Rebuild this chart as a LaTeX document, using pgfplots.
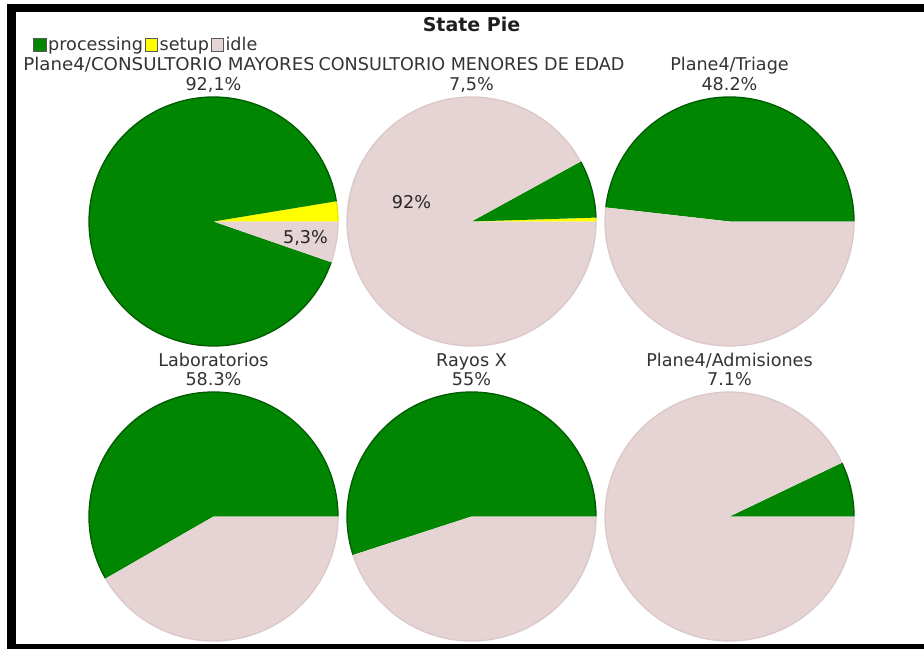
\documentclass[border=0pt]{standalone}
\usepackage{pgfplots}
\pgfplotsset{compat=1.18}
\usepackage{fontspec}
\setmainfont{DejaVu Sans}
\definecolor{pgreen}{HTML}{008600}
\definecolor{pgreenedge}{HTML}{005C00}
\definecolor{psetup}{HTML}{FFFF00}
\definecolor{psetupedge}{HTML}{E8E800}
\definecolor{pidle}{HTML}{E6D3D4}
\definecolor{pidleedge}{HTML}{DBC8C9}
\definecolor{txt}{HTML}{333333}
\newcommand{\R}{124.5}
% slice: cx, cy, start %, end %, fill, edge
\newcommand{\slice}[6]{%
  \addplot[forget plot, fill=#5, draw=none, domain=3.6*(#3):3.6*(#4), samples=120, variable=\t]
    ({#1+\R*cos(\t)},{#2-\R*sin(\t)}) -- (axis cs:#1,#2) -- cycle;
  \addplot[forget plot, draw=#6, line width=1pt, domain=3.6*(#3):3.6*(#4), samples=120, variable=\t]
    ({#1+\R*cos(\t)},{#2-\R*sin(\t)});
}
\newcommand{\lbl}{\fontsize{13.2}{15.8}\selectfont}
\begin{document}
\begin{tikzpicture}
\begin{axis}[
  width=693pt, height=486.75pt, scale only axis,
  xmin=0, xmax=924, ymin=0, ymax=649, y dir=reverse,
  hide axis, clip=false,
  sq legend/.style={legend image code/.code={\draw[##1] (0pt,-4.8pt) rectangle (9.5pt,4.8pt);}},
  legend style={draw=none, fill=none, inner sep=0pt, font=\lbl, text=txt,
    at={(axis description cs:0.0357,0.9307)}, anchor=west,
    nodes={inner sep=1.3pt}, /tikz/column sep=0pt},
  legend columns=-1,
]
\addlegendimage{sq legend, fill=pgreen, draw=black!65}
\addlegendentry{processing}
\addlegendimage{sq legend, fill=psetup, draw=black!65}
\addlegendentry{setup}
\addlegendimage{sq legend, fill=pidle, draw=black!65}
\addlegendentry{idle}

% Pie 1: Plane4/CONSULTORIO MAYORES DE EDAD  (setup 2.6, processing 92.1, idle 5.3)
\slice{213.5}{221.5}{0}{2.6}{psetup}{psetupedge}
\slice{213.5}{221.5}{2.6}{2.6+92.1}{pgreen}{pgreenedge}
\slice{213.5}{221.5}{2.6+92.1}{100}{pidle}{pidleedge}
% Pie 2: CONSULTORIO MENORES DE EDAD (setup 0.5, processing 7.5, idle 92)
\slice{471.5}{221.5}{0}{0.5}{psetup}{psetupedge}
\slice{471.5}{221.5}{0.5}{0.5+7.5}{pgreen}{pgreenedge}
\slice{471.5}{221.5}{0.5+7.5}{100}{pidle}{pidleedge}
% Pie 3: Plane4/Triage (processing 48.2, idle 51.8)
\slice{729.5}{221.5}{0}{48.2}{pgreen}{pgreenedge}
\slice{729.5}{221.5}{48.2}{100}{pidle}{pidleedge}
% Pie 4: Laboratorios (processing 58.3, idle 41.7)
\slice{213.5}{516.5}{0}{58.3}{pgreen}{pgreenedge}
\slice{213.5}{516.5}{58.3}{100}{pidle}{pidleedge}
% Pie 5: Rayos X (processing 55, idle 45)
\slice{471.5}{516.5}{0}{55}{pgreen}{pgreenedge}
\slice{471.5}{516.5}{55}{100}{pidle}{pidleedge}
% Pie 6: Plane4/Admisiones (processing 7.1, idle 92.9)
\slice{729.5}{516.5}{0}{7.1}{pgreen}{pgreenedge}
\slice{729.5}{516.5}{7.1}{100}{pidle}{pidleedge}

% frame
\fill[black] (axis cs:7,4) rectangle (axis cs:924,12);
\fill[black] (axis cs:7,4) rectangle (axis cs:15.5,649);
\fill[black] (axis cs:7,644) rectangle (axis cs:924,649);

% title
\node[anchor=base, font=\fontsize{14.25}{17}\selectfont\bfseries, text=black!88] at (axis cs:471.5,32) {State Pie};

% labels row 1
\node[anchor=base, font=\lbl, text=txt, xscale=1.035, transform shape] at (axis cs:213.5,71) {Plane4/CONSULTORIO MAYORES DE EDAD};
\node[anchor=base, font=\lbl, text=txt, fill=white, inner xsep=4pt, inner ysep=1pt] at (axis cs:471.5,71) {CONSULTORIO MENORES DE EDAD};
\node[anchor=base, font=\lbl, text=txt] at (axis cs:729.5,71) {Plane4/Triage};
\node[anchor=base, font=\lbl, text=txt] at (axis cs:213.5,90.5) {92,1\%};
\node[anchor=base, font=\lbl, text=txt] at (axis cs:471.5,90.5) {7,5\%};
\node[anchor=base, font=\lbl, text=txt] at (axis cs:729.5,90.5) {48.2\%};
% labels row 2
\node[anchor=base, font=\lbl, text=txt] at (axis cs:213.5,366) {Laboratorios};
\node[anchor=base, font=\lbl, text=txt] at (axis cs:471.5,366) {Rayos X};
\node[anchor=base, font=\lbl, text=txt] at (axis cs:729.5,366) {Plane4/Admisiones};
\node[anchor=base, font=\lbl, text=txt] at (axis cs:213.5,385.5) {58.3\%};
\node[anchor=base, font=\lbl, text=txt] at (axis cs:471.5,385.5) {55\%};
\node[anchor=base, font=\lbl, text=txt] at (axis cs:729.5,385.5) {7.1\%};
% in-pie labels
\node[anchor=base, font=\lbl, text=black!85] at (axis cs:305.5,243.5) {5,3\%};
\node[anchor=base, font=\lbl, text=black!85] at (axis cs:411.5,208) {92\%};
\end{axis}
\pgfresetboundingbox
\useasboundingbox (current axis.south west) rectangle (current axis.north east);
\end{tikzpicture}
\end{document}
